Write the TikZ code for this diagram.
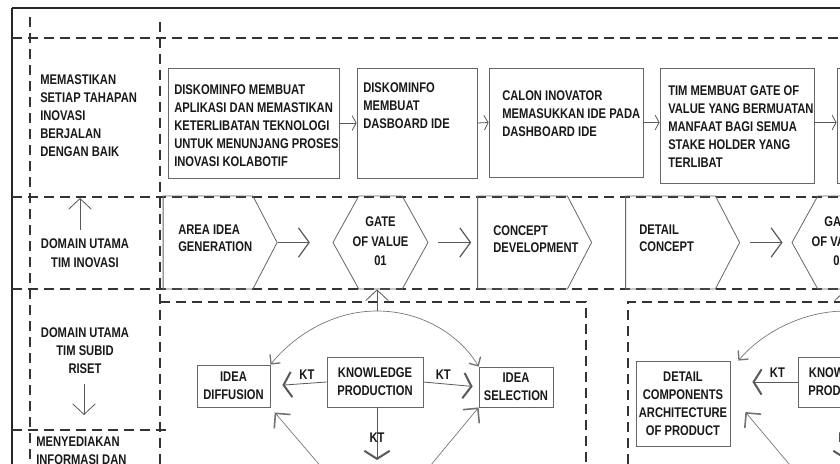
\documentclass[tikz,border=0pt]{standalone}
\usepackage{fontspec}
\setmainfont{Liberation Sans}[FakeStretch=0.8]
\usetikzlibrary{arrows.meta, shapes.symbols}

\begin{document}
\begin{tikzpicture}[x=0.75pt, y=-0.75pt,
        font=\fontsize{10.5pt}{13.5pt}\selectfont\bfseries,
        every node/.style={text=black!90},
        lane/.style={draw=black!80, line width=0.8pt, dash pattern=on 7.5pt off 4.5pt},
        framerule/.style={draw=black!85, line width=0.8pt},
        stepbox/.style={draw=black!60, line width=0.6pt, inner sep=0pt},
        steptext/.style={align=left, anchor=north west, inner sep=0pt},
        stage/.style={draw=black!60, line width=0.6pt, signal, signal to=east, signal pointer angle=125,
            minimum height=69.75pt, minimum width=85.5pt, inner sep=0pt},
        gate/.style={draw=black!60, line width=0.6pt, signal, signal to=east and west, signal pointer angle=122,
            minimum height=69.75pt, minimum width=71.25pt, inner sep=0pt},
        infobox/.style={draw=black!60, line width=0.6pt, align=center, inner sep=0pt},
        lanetext/.style={align=center, inner sep=0pt},
        flow/.style={draw=black!65, line width=0.6pt, -{Straight Barb[length=3pt, width=11pt]}},
        bigflow/.style={draw=black!65, line width=0.6pt, -{Straight Barb[length=8pt, width=22pt, line width=0.9pt]}},
        vflow/.style={draw=black!65, line width=0.6pt, -{Straight Barb[length=8pt, width=17pt]}},
        kt/.style={draw=black!65, line width=0.6pt, -{Straight Barb[length=6pt, width=19pt, line width=1.5pt]}},
        cycleline/.style={draw=black!55, line width=0.5pt, -{Straight Barb[length=5pt, width=10pt, line width=1pt]}},
        bigcycle/.style={draw=black!55, line width=0.5pt, -{Straight Barb[length=8pt, width=16pt, line width=1.2pt]}}]

    \fill[white] (0,0) rectangle (840,464);
    \path[use as bounding box, clip] (0,0) rectangle (840,464);

    % frame and swimlanes
    \draw[framerule] (12,8) -- (840,8);
    \draw[framerule] (12,8) -- (12,464);
    \draw[lane] (30,17) -- (30,464);
    \draw[lane] (160,22) -- (160,464);
    \draw[lane] (12,38) -- (840,38);
    \draw[lane] (12,197) -- (840,197);
    \draw[lane] (12,289) -- (840,289);
    \draw[lane] (12,430) -- (170,430);
    \draw[lane] (160,302) -- (586,302) -- (586,464);
    \draw[lane] (628,464) -- (628,302) -- (840,302);

    % left column
    \node[align=left, anchor=west, inner sep=0pt] (goal) at (40,116) {MEMASTIKAN\\SETIAP TAHAPAN\\INOVASI\\BERJALAN\\DENGAN BAIK};
    \node[lanetext] (inov) at (85,253) {DOMAIN UTAMA\\[1pt]TIM INOVASI};
    \node[lanetext] (riset) at (85,351) {DOMAIN UTAMA\\TIM SUBID\\RISET};
    \node[align=left, anchor=north west, inner sep=0pt] (info) at (36,437) {MENYEDIAKAN\\INFORMASI DAN};
    \coordinate (goalup) at (80,198);
    \coordinate (risetdown) at (84,415);
    \draw[vflow, shorten <=6pt] (inov.north -| goalup) -- (goalup);
    \draw[vflow, shorten <=7pt] (riset.south -| risetdown) -- (risetdown);

    % row 1
    \node[stepbox, minimum width=128.25pt, minimum height=82.5pt] (b1) at (253.5,123) {};
    \node[stepbox, minimum width=90pt, minimum height=82.5pt] (b2) at (417,123) {};
    \node[stepbox, minimum width=115.5pt, minimum height=81.75pt] (b3) at (566,122.5) {};
    \node[stepbox, minimum width=115.5pt, minimum height=86.25pt] (b4) at (737,125.5) {};
    \node[stepbox, minimum width=115.5pt, minimum height=86.25pt] (b5) at (914,125.5) {};
    \node[steptext] (b1t) at (174,84)
        {DISKOMINFO MEMBUAT\\APLIKASI DAN MEMASTIKAN\\KETERLIBATAN TEKNOLOGI\\UNTUK MENUNJANG PROSES\\INOVASI KOLABOTIF};
    \node[steptext] (b2t) at (363,82) {DISKOMINFO\\MEMBUAT\\DASBOARD IDE};
    \node[steptext] (b3t) at (502,90) {CALON INOVATOR\\MEMASUKKAN IDE PADA\\DASHBOARD IDE};
    \node[steptext] (b4t) at (668,85)
        {TIM MEMBUAT GATE OF\\VALUE YANG BERMUATAN\\MANFAAT BAGI SEMUA\\STAKE HOLDER YANG\\TERLIBAT};
    \draw[flow] (b1.east) -- (b2.west);
    \draw[flow] (b2.east) -- (b3.west);
    \draw[flow] (b3.east) -- (b3.east -| b4.west);
    \draw[flow] (b4.east |- b3.east) -- (b4.east |- b3.east -| b5.west);

    % row 2
    \node[stage] (p1) at (208,242.5) {};
    \node[gate] (g1) at (380.5,242.5) {};
    \node[stage] (p2) at (522.5,242.5) {};
    \node[stage] (p3) at (670.5,242.5) {};
    \node[gate] (g2) at (839.5,242.5) {};
    \node[steptext] (p1t) at (178,225) {AREA IDEA\\[-0.75pt]GENERATION};
    \node[steptext] (p2t) at (493,225) {CONCEPT\\[-0.75pt]DEVELOPMENT};
    \node[steptext] (p3t) at (639,225) {DETAIL\\[-0.75pt]CONCEPT};
    \node[lanetext] (g1t) at (380.5,241.5) {GATE\\[1.1pt]OF VALUE\\[1.1pt]01};
    \node[lanetext] (g2t) at (839.5,241.5) {GATE\\[1.1pt]OF VALUE\\[1.1pt]02};
    \draw[bigflow, shorten >=17pt] (p1.east) -- (g1.west);
    \draw[bigflow, shorten <=7.5pt, shorten >=4.5pt] (g1.east) -- (p2.west);
    \draw[bigflow, shorten <=7.5pt, shorten >=6.75pt] (p3.east) -- (g2.west);

    % row 3, first cycle
    \node[infobox, minimum width=72pt, minimum height=37.5pt] (kp1) at (375,382) {KNOWLEDGE\\PRODUCTION};
    \node[infobox, minimum width=54.75pt, minimum height=31.5pt] (idf) at (233.5,386) {IDEA\\DIFFUSION};
    \node[infobox, minimum width=55.5pt, minimum height=30pt] (isel) at (516,387) {IDEA\\SELECTION};
    \coordinate (arc1) at (377,311);
    \coordinate (kpdown1) at (377,460);
    \coordinate (lowl1) at (335,483);
    \coordinate (lowr1) at (416,483);
    \draw[kt, shorten >=9pt] (kp1.west) -- node[pos=0.35, above, inner sep=3pt] {KT} (idf.east);
    \draw[kt, shorten >=4.5pt] (kp1.east) -- node[pos=0.36, above, inner sep=3pt] {KT} (isel.west);
    \draw[kt] (kp1.south -| kpdown1) -- node[pos=0.57, inner sep=0pt] {KT} (kpdown1);
    \draw[vflow] (arc1) -- (arc1 |- g1.south);
    \draw[cycleline] (arc1) .. controls (330,311) and (292,338) .. (idf.north east);
    \draw[cycleline] (arc1) .. controls (425,311) and (462,338) .. (isel.north west);
    \draw[bigcycle, shorten >=5pt] (lowl1) -- (idf.south east);
    \draw[bigcycle] (lowr1) -- (isel.south west);

    % row 3, second cycle
    \node[infobox, minimum width=70.5pt, minimum height=63.75pt] (dcap) at (683,403.5)
        {DETAIL\\COMPONENTS\\ARCHITECTURE\\OF PRODUCT};
    \node[infobox, minimum width=72pt, minimum height=37.5pt] (kp2) at (846,382) {KNOWLEDGE\\PRODUCTION};
    \coordinate (arc2) at (846,311);
    \coordinate (kpdown2) at (846,460);
    \coordinate (lowr2) at (805,483);
    \draw[kt, shorten >=16.5pt] (kp2.west) -- node[pos=0.3, above, inner sep=3pt] {KT} (dcap.east |- kp2.west);
    \draw[kt] (kp2.south) -- node[pos=0.57, inner sep=0pt] {KT} (kpdown2);
    \draw[vflow] (arc2) -- (arc2 |- g2.south);
    \draw[cycleline] (arc2) .. controls (800,311) and (760,335) .. ([xshift=6pt]dcap.north east);
    \draw[bigcycle] (lowr2) -- ([xshift=11.25pt, yshift=-6.4pt]dcap.east);
\end{tikzpicture}
\end{document}
